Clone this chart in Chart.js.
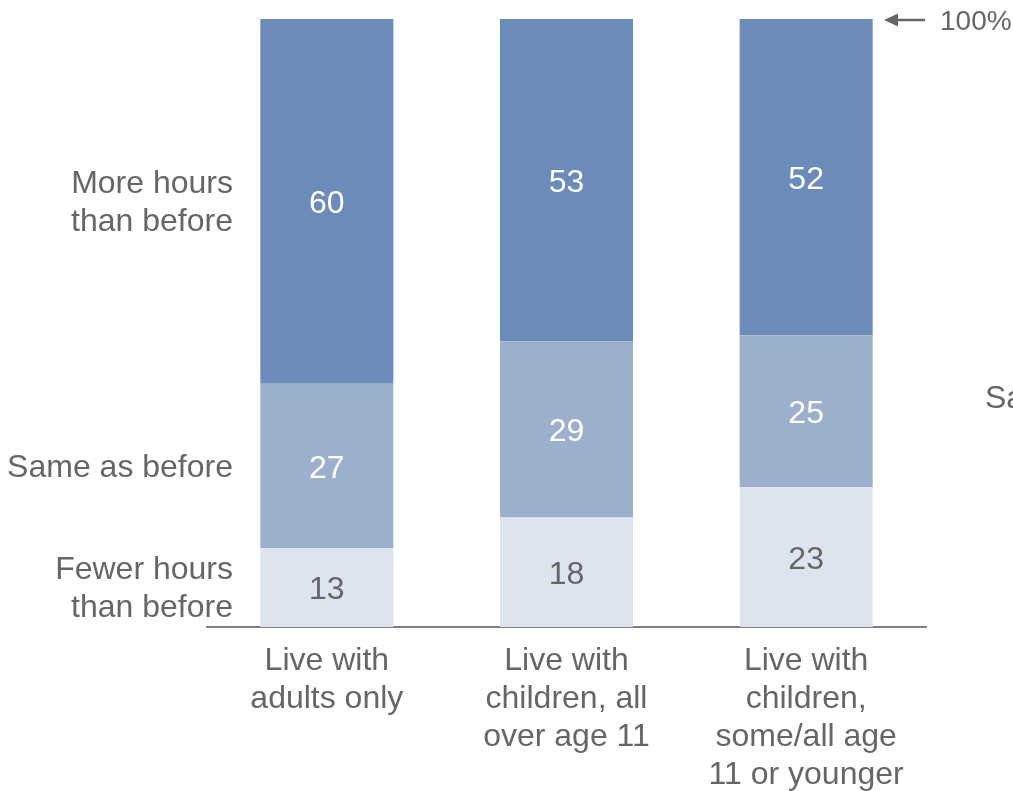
<!DOCTYPE html>
<html>
<head>
<meta charset="utf-8">
<script src="https://cdn.jsdelivr.net/npm/chart.js@4/dist/chart.umd.min.js"></script>
<style>
    body { margin: 0; background: #fff; }
    #wrap { width: 1013px; height: 791px; position: relative; }
</style>
</head>
<body>
<div id="wrap"><canvas id="chart"></canvas></div>
<script>
// Datos
const categorias = [
    ['Live with', 'adults only'],
    ['Live with', 'children, all', 'over age 11'],
    ['Live with', 'children,', 'some/all age', '11 or younger']
];
const menosHoras = [13, 18, 23];
const igualHoras = [27, 29, 25];
const masHoras = [60, 53, 52];
const etiquetasSerie = [
    ['Fewer hours', 'than before'],
    ['Same as before'],
    ['More hours', 'than before']
];
const etiquetaTope = '100%';
const etiquetaDerecha = 'Same as before';

const GRIS = '#666666';
const FAMILIA = "'Liberation Sans', Arial, sans-serif";
const fuente = { family: FAMILIA, size: 32, lineHeight: 38 / 32 };

// Etiquetas de valor dentro de cada segmento
const valoresPlugin = {
    id: 'valores',
    afterDatasetsDraw(chart) {
        const ctx = chart.ctx;
        ctx.save();
        ctx.font = `32px ${FAMILIA}`;
        ctx.textAlign = 'center';
        ctx.textBaseline = 'middle';
        chart.data.datasets.forEach((ds, i) => {
            const meta = chart.getDatasetMeta(i);
            meta.data.forEach((bar, j) => {
                ctx.fillStyle = ds.labelColor;
                ctx.fillText(ds.data[j], bar.x, (bar.y + bar.base) / 2 + 3);
            });
        });
        ctx.restore();
    }
};

// Nombres de las series a la izquierda, alineados con la primera barra
const seriesPlugin = {
    id: 'series',
    afterDraw(chart) {
        const ctx = chart.ctx;
        const y = chart.scales.y;
        const a = menosHoras[0], b = igualHoras[0], c = masHoras[0];
        const centros = [a / 2, a + b / 2, a + b + c / 2];
        const xDer = chart.chartArea.left + 26;
        ctx.save();
        ctx.font = `32px ${FAMILIA}`;
        ctx.fillStyle = GRIS;
        ctx.textAlign = 'right';
        ctx.textBaseline = 'middle';
        centros.forEach((v, i) => {
            const lineas = etiquetasSerie[i];
            const yc = y.getPixelForValue(v) + 2;
            lineas.forEach((txt, k) => {
                ctx.fillText(txt, xDer, yc + (k - (lineas.length - 1) / 2) * 38);
            });
        });
        ctx.restore();
    }
};

// Flecha de 100% y texto cortado a la derecha
const anotacionesPlugin = {
    id: 'anotaciones',
    afterDraw(chart) {
        const ctx = chart.ctx;
        const y = chart.scales.y;
        const derecha = chart.chartArea.right;
        const yTope = y.getPixelForValue(100) + 1;
        ctx.save();
        ctx.strokeStyle = GRIS;
        ctx.fillStyle = GRIS;
        ctx.lineWidth = 2.5;
        ctx.beginPath();
        ctx.moveTo(derecha - 1, yTope);
        ctx.lineTo(derecha - 32, yTope);
        ctx.stroke();
        ctx.beginPath();
        ctx.moveTo(derecha - 42, yTope);
        ctx.lineTo(derecha - 28, yTope - 6.5);
        ctx.lineTo(derecha - 28, yTope + 6.5);
        ctx.closePath();
        ctx.fill();
        ctx.textAlign = 'left';
        ctx.textBaseline = 'middle';
        ctx.font = `28px ${FAMILIA}`;
        ctx.fillText(etiquetaTope, derecha + 14, yTope + 2);
        ctx.font = `32px ${FAMILIA}`;
        ctx.fillText(etiquetaDerecha, derecha + 59, y.getPixelForValue(37.5));
        ctx.restore();
    }
};

function initChart() {
    const ctx = document.getElementById('chart').getContext('2d');

    new Chart(ctx, {
        type: 'bar',
        data: {
            labels: categorias,
            datasets: [
                { label: 'Fewer', data: menosHoras, backgroundColor: '#dee4ef', labelColor: GRIS },
                { label: 'Same', data: igualHoras, backgroundColor: '#9cb0ce', labelColor: '#ffffff' },
                { label: 'More', data: masHoras, backgroundColor: '#6b8cb8', labelColor: '#ffffff' }
            ]
        },
        options: {
            responsive: true,
            maintainAspectRatio: false,
            animation: false,
            layout: { padding: { top: 19, right: 87, left: 0, bottom: 0 } },
            datasets: {
                bar: { categoryPercentage: 1, barPercentage: 0.555, borderWidth: 0 }
            },
            scales: {
                x: {
                    stacked: true,
                    grid: { display: false, drawTicks: false },
                    border: { display: true, color: '#7f7f7f', width: 2 },
                    ticks: {
                        color: GRIS,
                        font: fuente,
                        padding: 15,
                        autoSkip: false,
                        maxRotation: 0,
                        minRotation: 0
                    },
                    afterFit(scale) { scale.height = 164; }
                },
                y: {
                    stacked: true,
                    min: 0,
                    max: 100,
                    grid: { display: false, drawTicks: false },
                    border: { display: false },
                    ticks: { display: false },
                    afterFit(scale) { scale.width = 207; }
                }
            },
            plugins: {
                legend: { display: false },
                tooltip: { enabled: false }
            }
        },
        plugins: [valoresPlugin, seriesPlugin, anotacionesPlugin]
    });
}

initChart();
</script>
</body>
</html>
